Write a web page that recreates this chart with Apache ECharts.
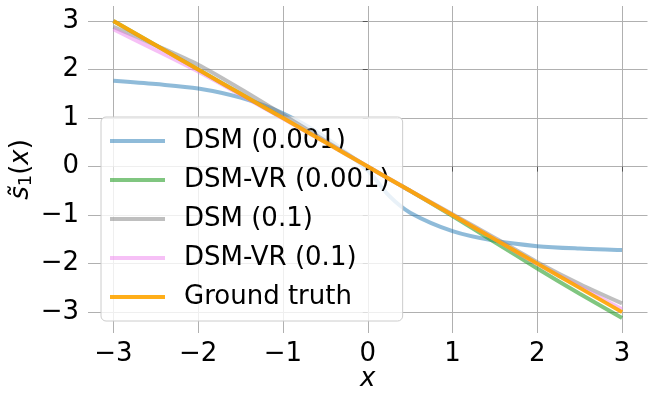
<!DOCTYPE html>
<html>
<head>
<meta charset="utf-8">
<script src="https://cdn.jsdelivr.net/npm/echarts@6/dist/echarts.min.js"></script>
<style>
html,body{margin:0;padding:0;background:#fff;}
#c{width:652px;height:403px;}
</style>
</head>
<body>
<div id="c"></div>
<script>
const xs = [-3, -2.5, -2, -1.5, -1, -0.5, 0, 0.25, 0.5, 1, 1.5, 2, 2.5, 3];
const dsm001   = [1.77, 1.70, 1.61, 1.42, 1.10, 0.60, -0.08, -0.60, -0.95, -1.33, -1.53, -1.64, -1.69, -1.72];
const dsmvr001 = [3.00, 2.50, 2.00, 1.50, 1.00, 0.50, 0.00, -0.25, -0.50, -1.02, -1.56, -2.10, -2.62, -3.12];
const dsm01    = [2.88, 2.50, 2.10, 1.60, 1.07, 0.53, 0.00, -0.25, -0.50, -0.98, -1.47, -1.97, -2.42, -2.82];
const dsmvr01  = [2.83, 2.40, 1.96, 1.48, 0.99, 0.50, 0.00, -0.25, -0.50, -1.00, -1.50, -2.01, -2.48, -2.94];
const truth    = [3.00, 2.50, 2.00, 1.50, 1.00, 0.50, 0.00, -0.25, -0.50, -1.00, -1.50, -2.00, -2.50, -3.00];
const names = ['DSM (0.001)', 'DSM-VR (0.001)', 'DSM (0.1)', 'DSM-VR (0.1)', 'Ground truth'];
const xTicks = [-3, -2, -1, 0, 1, 2, 3];
const yTicks = [-3, -2, -1, 0, 1, 2, 3];

const colors = ['rgba(31,119,180,0.5)', 'rgba(44,160,44,0.6)', 'rgba(127,127,127,0.5)', 'rgba(238,130,238,0.5)', 'rgba(255,165,0,0.9)'];
const seriesVals = [dsm001, dsmvr001, dsm01, dsmvr01, truth];
const FONT = 'DejaVu Sans';
const FS = 26;
const fmt = v => (v < 0 ? '\u2212' + Math.abs(v) : String(v));

const chart = echarts.init(document.getElementById('c'));
chart.setOption({
  animation: false,
  backgroundColor: '#ffffff',
  grid: { left: 88, top: 6, width: 559.5, height: 327, containLabel: false, outerBoundsMode: 'none' },
  xAxis: {
    type: 'value', min: -3.3, max: 3.3,
    axisLine: { show: false },
    axisTick: { show: true, length: 5, customValues: xTicks, lineStyle: { color: '#555', width: 1 } },
    axisLabel: { customValues: xTicks, formatter: fmt, margin: 8, color: '#000', fontFamily: FONT, fontSize: FS },
    splitLine: { show: true, lineStyle: { color: '#b0b0b0', width: 1 } },
    name: 'x', nameLocation: 'middle', nameGap: 33, nameMoveOverlap: false,
    nameTextStyle: { color: '#000', fontFamily: FONT, fontSize: FS, fontStyle: 'italic' }
  },
  yAxis: {
    type: 'value', min: -3.43, max: 3.31,
    axisLine: { show: false },
    axisTick: { show: true, length: 5, customValues: yTicks, lineStyle: { color: '#555', width: 1 } },
    axisLabel: { customValues: yTicks, formatter: fmt, margin: 9, color: '#000', fontFamily: FONT, fontSize: FS },
    splitLine: { show: true, lineStyle: { color: '#b0b0b0', width: 1 } },
    name: '{i|s\u0303}{sub|1}{n|(}{i|x}{n|)}', nameLocation: 'middle', nameGap: 53, nameRotate: 90, nameMoveOverlap: false,
    nameTextStyle: {
      color: '#000', fontFamily: FONT, fontSize: FS,
      rich: {
        i: { fontFamily: FONT, fontSize: FS, fontStyle: 'italic', color: '#000' },
        n: { fontFamily: FONT, fontSize: FS, color: '#000' },
        sub: { fontFamily: FONT, fontSize: 18, color: '#000', verticalAlign: 'bottom', padding: [9, 0, 0, 0] }
      }
    }
  },
  legend: {
    orient: 'vertical', left: 101, top: 117,
    data: names,
    icon: 'rect',
    itemWidth: 55, itemHeight: 4, itemGap: 11,
    padding: [10, 13, 10, 9],
    backgroundColor: 'rgba(255,255,255,0.8)',
    borderColor: '#cccccc', borderWidth: 1, borderRadius: 5,
    textStyle: { color: '#000', fontFamily: FONT, fontSize: FS, lineHeight: 28, padding: [0, 0, 0, 14] }
  },
  series: seriesVals.map((vals, k) => ({
    name: names[k], type: 'line', symbol: 'none', smooth: 0.3,
    data: xs.map((x, i) => [x, vals[i]]),
    lineStyle: { color: colors[k], width: 4 },
    itemStyle: { color: colors[k] },
    z: 2 + k
  }))
});
</script>
</body>
</html>
